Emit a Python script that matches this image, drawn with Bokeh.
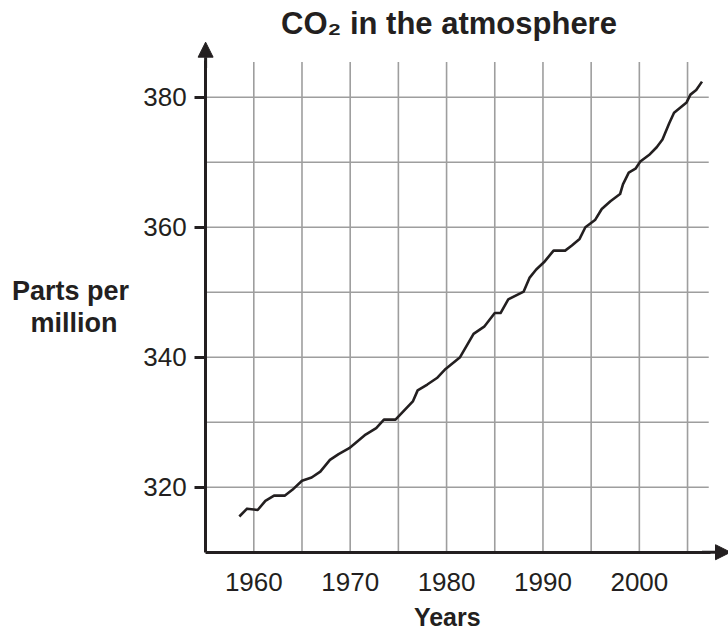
from bokeh.plotting import figure
from bokeh.models import FixedTicker, Arrow, NormalHead, Label, Range1d
from bokeh.embed import file_html
from bokeh.resources import INLINE

# ---- data ----
years = [1958.5, 1959.3, 1960.4, 1961.2, 1962.1, 1963.2, 1964.0, 1965.0, 1966.0, 1966.9,
         1967.9, 1968.8, 1969.9, 1970.8, 1971.6, 1972.7, 1973.5, 1974.7, 1976.5, 1977.0,
         1978.0, 1979.0, 1979.9, 1981.4, 1982.8, 1983.9, 1985.0, 1985.6, 1986.4, 1988.0,
         1988.6, 1989.3, 1990.1, 1991.1, 1992.3, 1993.0, 1993.8, 1994.4, 1995.4, 1996.1,
         1997.0, 1998.0, 1998.3, 1998.9, 1999.6, 2000.1, 2001.0, 2001.8, 2002.4, 2003.1,
         2003.6, 2004.9, 2005.3, 2005.9, 2006.5]
ppm = [315.5, 316.7, 316.5, 317.9, 318.7, 318.7, 319.6, 321.0, 321.5, 322.4,
       324.2, 325.1, 326.0, 327.1, 328.1, 329.1, 330.4, 330.4, 333.2, 334.9,
       335.8, 336.8, 338.2, 340.0, 343.6, 344.7, 346.8, 346.8, 348.9, 350.1,
       352.2, 353.5, 354.6, 356.4, 356.4, 357.2, 358.2, 360.0, 361.1, 362.8,
       364.0, 365.1, 366.6, 368.4, 369.0, 370.1, 371.1, 372.3, 373.5, 376.0,
       377.6, 379.2, 380.4, 381.1, 382.4]

x_tick_years = [1960, 1970, 1980, 1990, 2000]
y_tick_ppm = [320, 340, 360, 380]
grid_years = [1960, 1965, 1970, 1975, 1980, 1985, 1990, 1995, 2000, 2005]
grid_ppm = [320, 330, 340, 350, 360, 370, 380]

title_text = "CO\u2082 in the atmosphere"
x_label = "Years"
y_label_lines = ["Parts per", "million"]

# ---- styling / layout ----
INK = "#231f20"
GRID = "#9e9e9e"
FONT = "Liberation Sans"
X_AXIS_AT = 1955          # where the vertical axis crosses
Y_AXIS_AT = 310           # where the horizontal axis crosses
X0, X1 = 1933.72, 2009.25
Y0, Y1 = 297.65, 394.88
GRID_TOP = 385.4
GRID_RIGHT = 2007.2

p = figure(width=728, height=632, output_backend="svg", toolbar_location=None,
           x_range=Range1d(X0, X1), y_range=Range1d(Y0, Y1),
           min_border=0, min_border_left=0, min_border_right=0,
           min_border_top=0, min_border_bottom=0)
p.title.visible = False
p.outline_line_color = None
p.xgrid.visible = False
p.ygrid.visible = False
p.background_fill_color = "white"
p.border_fill_color = "white"

# grid lines (limited extent)
p.segment(x0=grid_years, y0=[Y_AXIS_AT] * len(grid_years), x1=grid_years,
          y1=[GRID_TOP] * len(grid_years), line_color=GRID, line_width=1.6)
p.segment(x0=[X_AXIS_AT] * len(grid_ppm), y0=grid_ppm, x1=[GRID_RIGHT] * len(grid_ppm),
          y1=grid_ppm, line_color=GRID, line_width=1.6)

# data line
p.line(years, ppm, line_color=INK, line_width=2.6, line_join="round")

# x axis
xa = p.xaxis[0]
xa.fixed_location = Y_AXIS_AT
xa.ticker = FixedTicker(ticks=x_tick_years)
xa.bounds = (X_AXIS_AT, 2007.4)
xa.axis_line_color = INK
xa.axis_line_width = 3
xa.major_tick_line_color = None
xa.major_tick_out = 0
xa.major_tick_in = 0
xa.minor_tick_line_color = None
xa.major_label_text_font = FONT
xa.major_label_text_font_size = "26px"
xa.major_label_text_color = INK
xa.major_label_standoff = 21

# y axis
ya = p.yaxis[0]
ya.fixed_location = X_AXIS_AT
ya.ticker = FixedTicker(ticks=y_tick_ppm)
ya.bounds = (Y_AXIS_AT, 385.6)
ya.axis_line_color = INK
ya.axis_line_width = 3
ya.major_tick_line_color = INK
ya.major_tick_line_width = 3
ya.major_tick_out = 11
ya.major_tick_in = 0
ya.minor_tick_line_color = None
ya.major_label_text_font = FONT
ya.major_label_text_font_size = "26px"
ya.major_label_text_color = INK
ya.major_label_standoff = 8

# arrow heads on the axes
p.add_layout(Arrow(end=NormalHead(size=15, fill_color=INK, line_color=INK, line_width=1),
                   x_start=X_AXIS_AT, y_start=384.5, x_end=X_AXIS_AT, y_end=388.47,
                   line_color=INK, line_width=3))
p.add_layout(Arrow(end=NormalHead(size=15, fill_color=INK, line_color=INK, line_width=1),
                   x_start=2006.5, y_start=Y_AXIS_AT, x_end=2009.46, y_end=Y_AXIS_AT,
                   line_color=INK, line_width=3))

# title and axis labels
p.add_layout(Label(x=1980.25, y=391.36, text=title_text, text_font=FONT,
                   text_font_size="31px", text_font_style="bold", text_color=INK,
                   text_align="center", text_baseline="middle"))
p.add_layout(Label(x=1980.07, y=300.06, text=x_label, text_font=FONT,
                   text_font_size="25px", text_font_style="bold", text_color=INK,
                   text_align="center", text_baseline="middle"))
p.add_layout(Label(x=1940.98, y=350.17, text=y_label_lines[0], text_font=FONT,
                   text_font_size="27px", text_font_style="bold", text_color=INK,
                   text_align="center", text_baseline="middle"))
p.add_layout(Label(x=1941.35, y=345.30, text=y_label_lines[1], text_font=FONT,
                   text_font_size="27px", text_font_style="bold", text_color=INK,
                   text_align="center", text_baseline="middle"))

open("out.html", "w").write(file_html(p, INLINE))
